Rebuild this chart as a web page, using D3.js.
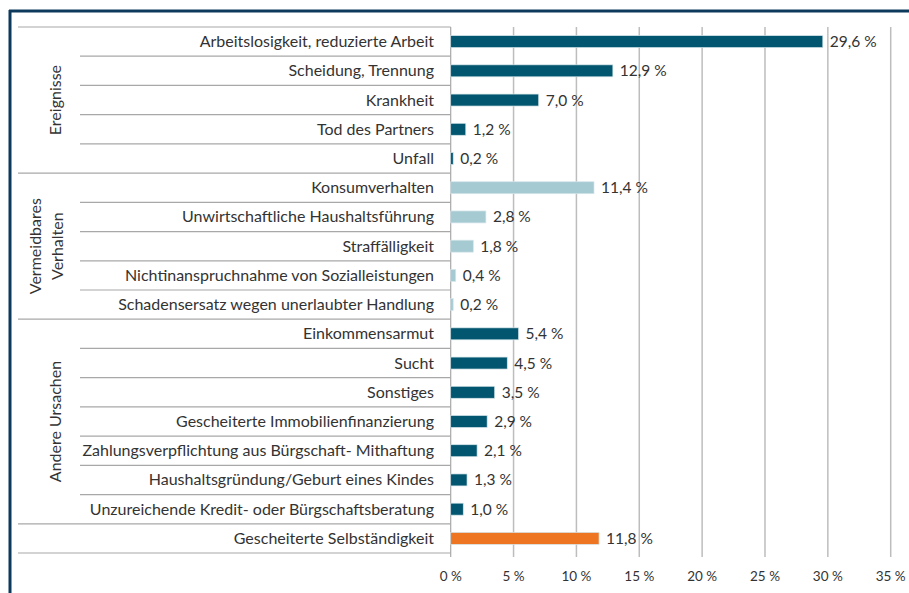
<!DOCTYPE html>
<html><head><meta charset="utf-8">
<script src="https://cdn.jsdelivr.net/npm/d3@7"></script>
<style>body{margin:0;background:#fff}svg{display:block}text{font-family:Lato,"Open Sans",sans-serif;fill:#333}</style>
</head><body><svg id="c" width="909" height="593"></svg>
<script>
const categories = ["Arbeitslosigkeit, reduzierte Arbeit","Scheidung, Trennung","Krankheit","Tod des Partners","Unfall",
"Konsumverhalten","Unwirtschaftliche Haushaltsführung","Straffälligkeit","Nichtinanspruchnahme von Sozialleistungen","Schadensersatz wegen unerlaubter Handlung",
"Einkommensarmut","Sucht","Sonstiges","Gescheiterte Immobilienfinanzierung","Zahlungsverpflichtung aus Bürgschaft- Mithaftung","Haushaltsgründung/Geburt eines Kindes","Unzureichende Kredit- oder Bürgschaftsberatung",
"Gescheiterte Selbständigkeit"];
const values = [29.6,12.9,7.0,1.2,0.2, 11.4,2.8,1.8,0.4,0.2, 5.4,4.5,3.5,2.9,2.1,1.3,1.0, 11.8];
const groupOf = [0,0,0,0,0, 1,1,1,1,1, 2,2,2,2,2,2,2, 3];
const groupLabels = [["Ereignisse"],["Vermeidbares","Verhalten"],["Andere Ursachen"],[]];
const groupColors = ["#03566f","#a6cad2","#03566f","#ee7623"];
const xTicks = [0,5,10,15,20,25,30,35];

(function(){
const svg = d3.select("#c");
const pL = 450.7, pR = 890.7, pT = 27, pB = 553;
const x = d3.scaleLinear().domain([0,35]).range([pL,pR]);
const y = d3.scaleBand().domain(categories).range([pT,pB]).padding(0);
const bh = y.bandwidth()*0.41;
const fmt = v => d3.format(".1f")(v).replace(".", ",") + " %";

svg.append("line").attr("x1",9).attr("x2",909).attr("y1",11).attr("y2",11).attr("stroke","#0d3a5c").attr("stroke-width",3);
svg.append("line").attr("x1",10).attr("x2",10).attr("y1",10).attr("y2",593).attr("stroke","#0d3a5c").attr("stroke-width",3);

svg.append("g").selectAll("line").data(xTicks.slice(1)).join("line")
  .attr("x1",d=>x(d)).attr("x2",d=>x(d)).attr("y1",pT).attr("y2",pB+4)
  .attr("stroke","#bdbdbd").attr("stroke-width",1.5);

const bounds = categories.map((c,i)=>({y:y(c), group: i===0 || groupOf[i]!==groupOf[i-1]}));
bounds.push({y:pB, group:true});
svg.append("g").selectAll("line").data(bounds).join("line")
  .attr("x1",d=>d.group?18:80).attr("x2",pL).attr("y1",d=>d.y).attr("y2",d=>d.y)
  .attr("stroke","#a8a8a8").attr("stroke-width",1.2);

svg.append("line").attr("x1",pL).attr("x2",pL).attr("y1",pT).attr("y2",pB+4).attr("stroke","#a8a8a8").attr("stroke-width",1.2);

svg.append("g").selectAll("rect").data(values).join("rect")
  .attr("x",x(0)).attr("y",(d,i)=>y(categories[i])+y.bandwidth()/2-bh/2)
  .attr("width",d=>x(d)-x(0)).attr("height",bh)
  .attr("fill",(d,i)=>groupColors[groupOf[i]]).attr("stroke","#d6e6eb").attr("stroke-width",0.7);

svg.append("g").selectAll("text").data(values).join("text")
  .attr("x",d=>x(d)+7).attr("y",(d,i)=>y(categories[i])+y.bandwidth()/2+5.5)
  .attr("font-size",15.5).text(d=>fmt(d));

svg.append("g").selectAll("text").data(categories).join("text")
  .attr("x",434).attr("y",d=>y(d)+y.bandwidth()/2+5.5).attr("text-anchor","end")
  .attr("font-size",16).text(d=>d);

groupLabels.forEach((lines,g)=>{
  if(!lines.length) return;
  const idx = categories.filter((c,i)=>groupOf[i]===g);
  const cy = (y(idx[0]) + y(idx[idx.length-1]) + y.bandwidth())/2;
  const cx = lines.length>1 ? 46 : 55;
  const t = svg.append("text").attr("transform",`translate(${cx},${cy}) rotate(-90)`).attr("text-anchor","middle").attr("font-size",16);
  lines.forEach((l,k)=>t.append("tspan").attr("x",0).attr("y",(k-(lines.length-1)/2)*22+5.5).text(l));
});

svg.append("g").selectAll("text").data(xTicks).join("text")
  .attr("x",d=>x(d)).attr("y",581).attr("text-anchor","middle").attr("font-size",13.5)
  .text(d=>d+" %");
})();
</script></body></html>
